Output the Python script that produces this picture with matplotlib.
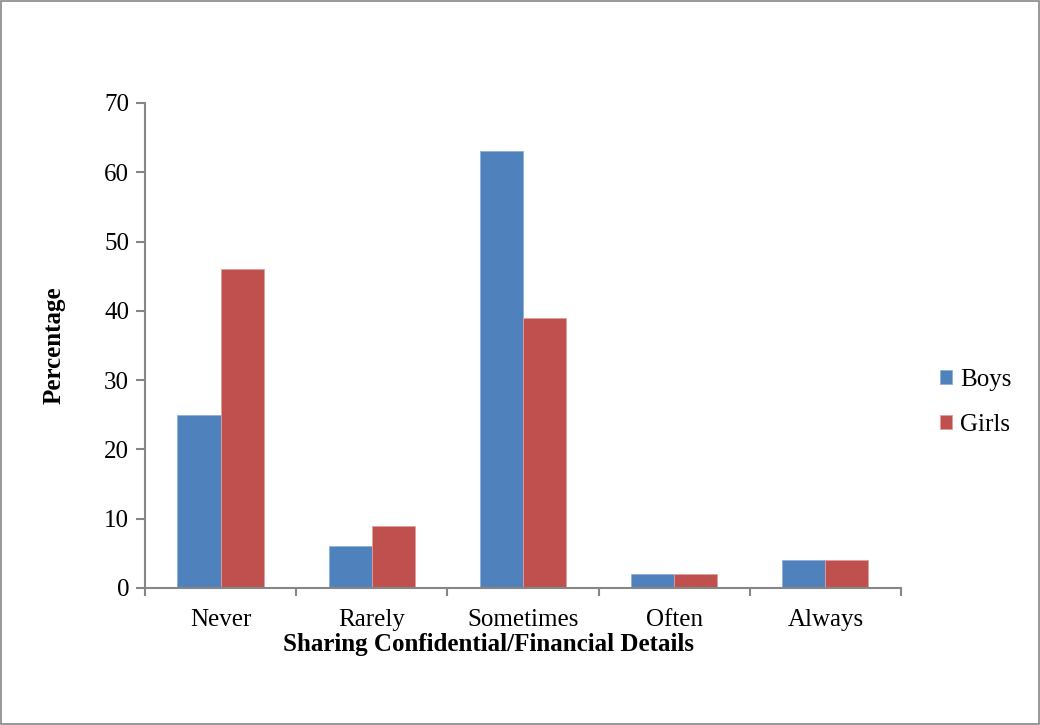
import numpy as np
import matplotlib.pyplot as plt
from matplotlib.patches import Rectangle

# data
categories = ['Never', 'Rarely', 'Sometimes', 'Often', 'Always']
boys = [25, 6, 63, 2, 4]
girls = [46, 9, 39, 2, 4]

plt.rcParams['font.family'] = ['Liberation Serif', 'DejaVu Serif']

fig = plt.figure(figsize=(10.4, 7.25), dpi=100)
ax = fig.add_axes([0.1394, 0.189, 0.7269, 0.669])

x = np.arange(len(categories))
w = 0.285
ax.bar(x - w / 2, boys, w, color='#4f81bd', label='Boys', edgecolor='#8fb0d8', linewidth=0.6)
ax.bar(x + w / 2, girls, w, color='#c0504d', label='Girls', edgecolor='#e0a09e', linewidth=0.6)

ax.set_xlim(-0.5, len(categories) - 0.5)
ax.set_ylim(0, 70)
ax.set_yticks(range(0, 71, 10))
ax.set_xticks(x)
ax.set_xticklabels(categories)
ax.set_xticks(np.arange(-0.5, len(categories), 1), minor=True)
ax.tick_params(axis='x', which='major', length=0, labelsize=18, pad=15)
ax.tick_params(axis='x', which='minor', length=5.5, width=1.5, color='#868686', direction='out')
ax.tick_params(axis='y', length=6.5, width=1.5, color='#868686', labelsize=18, pad=5)

for s in ['top', 'right']:
    ax.spines[s].set_visible(False)
for s in ['left', 'bottom']:
    ax.spines[s].set_color('#868686')
    ax.spines[s].set_linewidth(1.5)

ax.set_xlabel('Sharing Confidential/Financial Details', fontsize=18, fontweight='bold')
ax.xaxis.set_label_coords(0.454, -0.093)
ax.set_ylabel('Percentage', fontsize=18, fontweight='bold', labelpad=28)

fig.legend(loc='center left', bbox_to_anchor=(0.882, 0.445), frameon=False,
           fontsize=18, handlelength=0.5, handleheight=0.5, handletextpad=0.3,
           labelspacing=0.9)

fig.patches.append(Rectangle((0.001, 0.001), 0.998, 0.998, transform=fig.transFigure,
                             fill=False, edgecolor='#868686', linewidth=1.2))

plt.savefig('out.png', dpi=100)
